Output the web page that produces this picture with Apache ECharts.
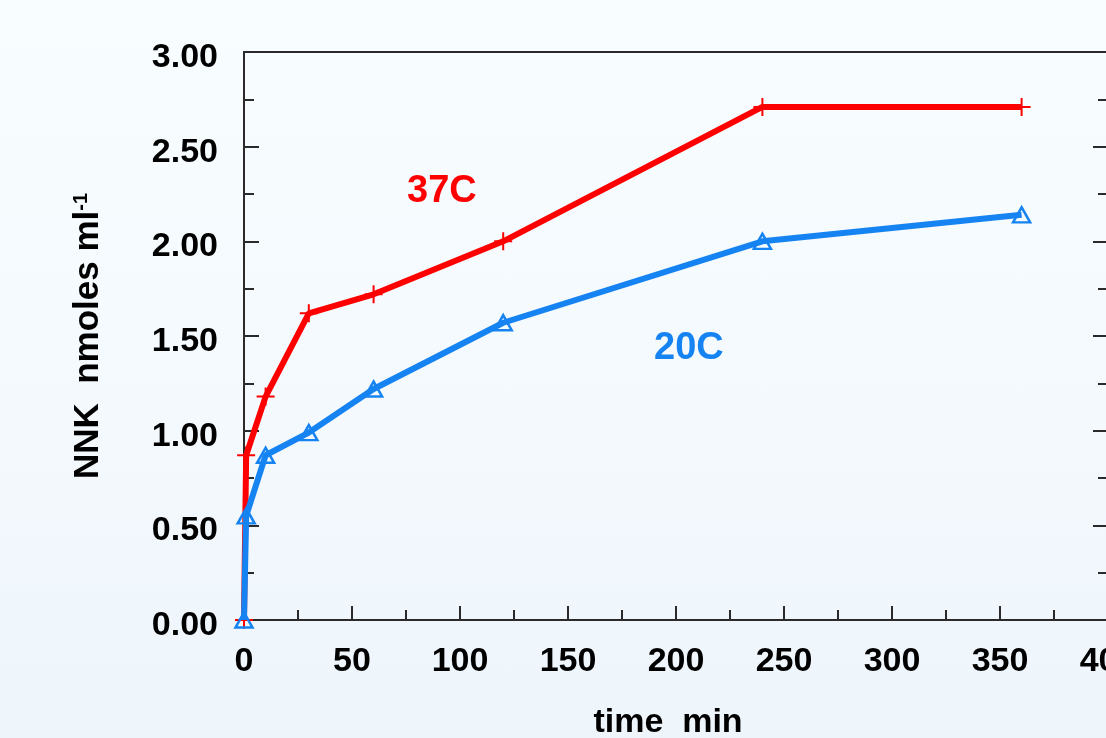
<!DOCTYPE html>
<html>
<head>
<meta charset="utf-8">
<script src="https://cdn.jsdelivr.net/npm/echarts@6.0.0/dist/echarts.min.js"></script>
<style>
  html, body { margin: 0; padding: 0; }
  body { background: linear-gradient(to bottom, #f8fdff 0%, #f3f9fd 60%, #eef5fb 100%); }
  #chart { width: 1106px; height: 738px; }
</style>
</head>
<body>
<div id="chart"></div>
<script>
// time (min) and NNK (nmoles/ml)
const timeMin = [0, 1, 10, 30, 60, 120, 240, 360];
const nnk37C = [0, 0.87, 1.18, 1.62, 1.72, 2.00, 2.71, 2.71];
const nnk20C = [0, 0.55, 0.87, 0.99, 1.22, 1.57, 2.00, 2.14];
const seriesNames = ['37C', '20C'];

const font = '"Liberation Sans", Arial, sans-serif';
const red = '#ff0000';
const blue = '#1683f2';
const axisColor = '#2a2a2a';

const pairs = (ys) => timeMin.map((t, i) => [t, ys[i]]);

const chart = echarts.init(document.getElementById('chart'), null, {renderer: 'canvas'});

const yBase = {
  type: 'value', min: 0, max: 3, interval: 0.5,
  splitLine: {show: false},
  axisLine: {show: true, onZero: false, lineStyle: {color: axisColor, width: 2}},
  axisTick: {show: true, inside: true, length: 15, lineStyle: {color: axisColor, width: 2}},
  minorTick: {show: true, splitNumber: 2, length: 10, lineStyle: {color: axisColor, width: 2}},
  minorSplitLine: {show: false}
};

chart.setOption({
  animation: false,
  backgroundColor: 'transparent',
  grid: {left: 244, top: 52, right: -2, bottom: 118, containLabel: false, outerBoundsMode: 'none'},
  xAxis: [{
    type: 'value', min: 0, max: 400, interval: 50,
    name: 'time  min', nameLocation: 'middle', nameGap: 86,
    nameTextStyle: {fontFamily: font, fontSize: 34, fontWeight: 'bold', color: '#000', padding: [0, 16, 0, 0]},
    splitLine: {show: false},
    axisLine: {show: true, onZero: false, lineStyle: {color: axisColor, width: 2}},
    axisTick: {show: true, inside: true, length: 14, lineStyle: {color: axisColor, width: 2}},
    minorTick: {show: true, splitNumber: 2, length: 10, lineStyle: {color: axisColor, width: 2}},
    axisLabel: {margin: 25, fontFamily: font, fontSize: 34, fontWeight: 'bold', color: '#000', showMaxLabel: true}
  }, {
    type: 'value', position: 'top', min: 0, max: 400, interval: 50,
    splitLine: {show: false},
    axisLine: {show: true, onZero: false, lineStyle: {color: axisColor, width: 2}},
    axisTick: {show: false}, axisLabel: {show: false}
  }],
  yAxis: [Object.assign({}, yBase, {
    name: '{a|NNK  nmoles ml}{s|-1}', nameLocation: 'middle', nameGap: 138,
    nameTextStyle: {
      rich: {
        a: {fontFamily: font, fontSize: 35, fontWeight: 'bold', color: '#000'},
        s: {fontFamily: font, fontSize: 20, fontWeight: 'bold', color: '#000', verticalAlign: 'top'}
      }
    },
    axisLabel: {
      margin: 26,
      formatter: (v) => '{v|' + v.toFixed(2) + '}',
      rich: {
        v: {fontFamily: font, fontSize: 34, fontWeight: 'bold', color: '#000', padding: [11, 0, 0, 0]}
      }
    }
  }), Object.assign({}, yBase, {
    position: 'right', axisLabel: {show: false}
  })],
  graphic: [
    {type: 'text', left: 407, top: 173, style: {text: seriesNames[0], fill: red, font: 'bold 38px ' + font}},
    {type: 'text', left: 654, top: 330, style: {text: seriesNames[1], fill: blue, font: 'bold 38px ' + font}}
  ],
  series: [{
    name: seriesNames[0], type: 'line', data: pairs(nnk37C),
    lineStyle: {color: red, width: 6},
    symbol: 'path://M0,-10 L0,10 M-10,0 L10,0', symbolSize: 18,
    itemStyle: {color: 'none', borderColor: red, borderWidth: 2},
    z: 2
  }, {
    name: seriesNames[1], type: 'line', data: pairs(nnk20C),
    lineStyle: {color: blue, width: 6},
    symbol: 'triangle', symbolSize: [17, 15],
    itemStyle: {color: 'rgba(0,0,0,0)', borderColor: blue, borderWidth: 2.5},
    z: 3
  }]
});
</script>
</body>
</html>
